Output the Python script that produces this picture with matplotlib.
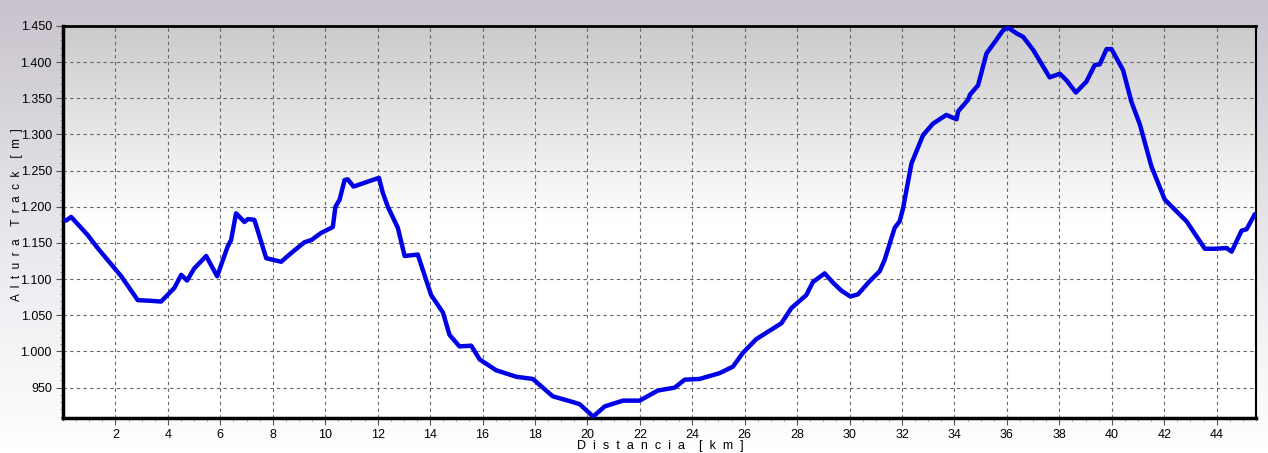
import numpy as np
import matplotlib
matplotlib.use("Agg")
import matplotlib.pyplot as plt
from matplotlib.ticker import MultipleLocator, FuncFormatter
from matplotlib.colors import LinearSegmentedColormap

# Data: distance (km) and track altitude (m)
distance_km = [0.0, 0.12, 0.31, 0.94, 1.32, 2.22, 2.85, 3.36, 3.74, 4.25, 4.51, 4.73,
               5.01, 5.46, 5.88, 6.28, 6.41, 6.60, 6.92, 7.05, 7.30, 7.75, 8.32, 8.70,
               9.21, 9.47, 9.85, 10.29, 10.39, 10.55, 10.74, 10.86, 11.08, 11.56, 12.05,
               12.20, 12.39, 12.77, 13.03, 13.53, 14.04, 14.49, 14.74, 15.12, 15.57,
               15.89, 16.52, 17.29, 17.92, 18.68, 19.45, 19.71, 20.22, 20.66, 21.35,
               21.99, 22.69, 23.33, 23.71, 24.28, 25.04, 25.55, 25.93, 26.44, 27.40,
               27.78, 28.35, 28.60, 29.05, 29.37, 29.69, 30.03, 30.32, 30.76, 31.15,
               31.34, 31.72, 31.91, 32.04, 32.36, 32.80, 33.18, 33.69, 34.08, 34.14,
               34.52, 34.59, 34.90, 35.22, 35.60, 35.85, 36.04, 36.36, 36.62, 37.00,
               37.63, 38.02, 38.27, 38.63, 39.03, 39.35, 39.54, 39.80, 39.99, 40.43,
               40.75, 41.07, 41.51, 42.02, 42.85, 43.55, 43.93, 44.38, 44.57, 44.95,
               45.14, 45.46]
altitude_m = [1183, 1181, 1186, 1161, 1143, 1104, 1071, 1070, 1069, 1088, 1106, 1098,
              1115, 1132, 1104, 1145, 1154, 1191, 1179, 1183, 1182, 1129, 1124, 1136,
              1151, 1154, 1164, 1172, 1200, 1210, 1237, 1238, 1228, 1234, 1240,
              1219, 1200, 1171, 1132, 1134, 1078, 1054, 1023, 1007, 1008,
              989, 974, 965, 962, 938, 930, 927, 910, 924, 932,
              932, 946, 950, 961, 962, 970, 979, 998, 1017, 1039,
              1060, 1078, 1096, 1108, 1095, 1084, 1076, 1079, 1097, 1111,
              1127, 1171, 1180, 1198, 1260, 1299, 1315, 1327, 1321, 1332,
              1348, 1355, 1368, 1412, 1431, 1444, 1448, 1440, 1435, 1417,
              1379, 1384, 1375, 1358, 1373, 1396, 1397, 1418, 1418, 1389,
              1345, 1314, 1256, 1210, 1180, 1142, 1142, 1143, 1138, 1167,
              1169, 1190]

x_ticks = list(range(2, 45, 2))
y_ticks = list(range(950, 1451, 50))

plt.rcParams['font.family'] = ['Liberation Sans', 'DejaVu Sans']

W, H = 1268, 453
fig = plt.figure(figsize=(W / 100, H / 100), dpi=100)

# Figure background gradient
bg = fig.add_axes([0, 0, 1, 1], zorder=-10)
fig_cmap = LinearSegmentedColormap.from_list("figbg", [(0.0, "#c8c3cc"), (0.55, "#ebe9ee"), (1.0, "#ffffff")])
bg.imshow(np.linspace(0, 1, 256).reshape(-1, 1), aspect="auto", cmap=fig_cmap,
          extent=[0, 1, 0, 1], origin="upper")
bg.axis("off")

ax = fig.add_axes([63 / W, 1 - 418 / H, (1256 - 63) / W, (418 - 26) / H])
ax.set_xlim(0, 45.5)
ax.set_ylim(908, 1450)

ax_cmap = LinearSegmentedColormap.from_list("axbg", [(0.0, "#cbcbcb"), (0.5, "#ffffff"), (1.0, "#ffffff")])
ax.imshow(np.linspace(0, 1, 256).reshape(-1, 1), aspect="auto", cmap=ax_cmap,
          extent=[0, 45.5, 908, 1450], origin="upper", zorder=0)

ax.plot(distance_km, altitude_m, color="#0000e6", lw=3.2, solid_joinstyle="round",
        solid_capstyle="round", zorder=3, clip_on=True)

ax.xaxis.set_major_locator(plt.FixedLocator(x_ticks))
ax.xaxis.set_minor_locator(MultipleLocator(0.5))
ax.yaxis.set_major_locator(plt.FixedLocator(y_ticks))
ax.yaxis.set_minor_locator(MultipleLocator(10))
ax.yaxis.set_major_formatter(FuncFormatter(lambda v, p: f"{int(round(v)):,}".replace(",", ".")))

ax.grid(True, which="major", color="#666666", linestyle=(0, (3, 3)), linewidth=0.8, zorder=1)
ax.set_axisbelow(True)

ax.tick_params(axis="both", which="major", labelsize=9, length=5, width=0.8, color="#555555", pad=3)
ax.tick_params(axis="both", which="minor", length=2, width=0.6, color="#888888")

for side, lw in (("left", 2.5), ("bottom", 2.5), ("top", 2.0), ("right", 1.5)):
    ax.spines[side].set_linewidth(lw)
    ax.spines[side].set_color("black")

fig.text(17 / W, 1 - 215 / H, "A  l  t  u  r  a    T  r  a  c  k    [  m  ]", rotation=90,
         ha="center", va="center", fontsize=8.5)
fig.text(660 / W, 1 - 446 / H, "D  i  s  t  a  n  c  i  a    [  k  m  ]",
         ha="center", va="center", fontsize=9)

fig.savefig("out.png", dpi=100)
